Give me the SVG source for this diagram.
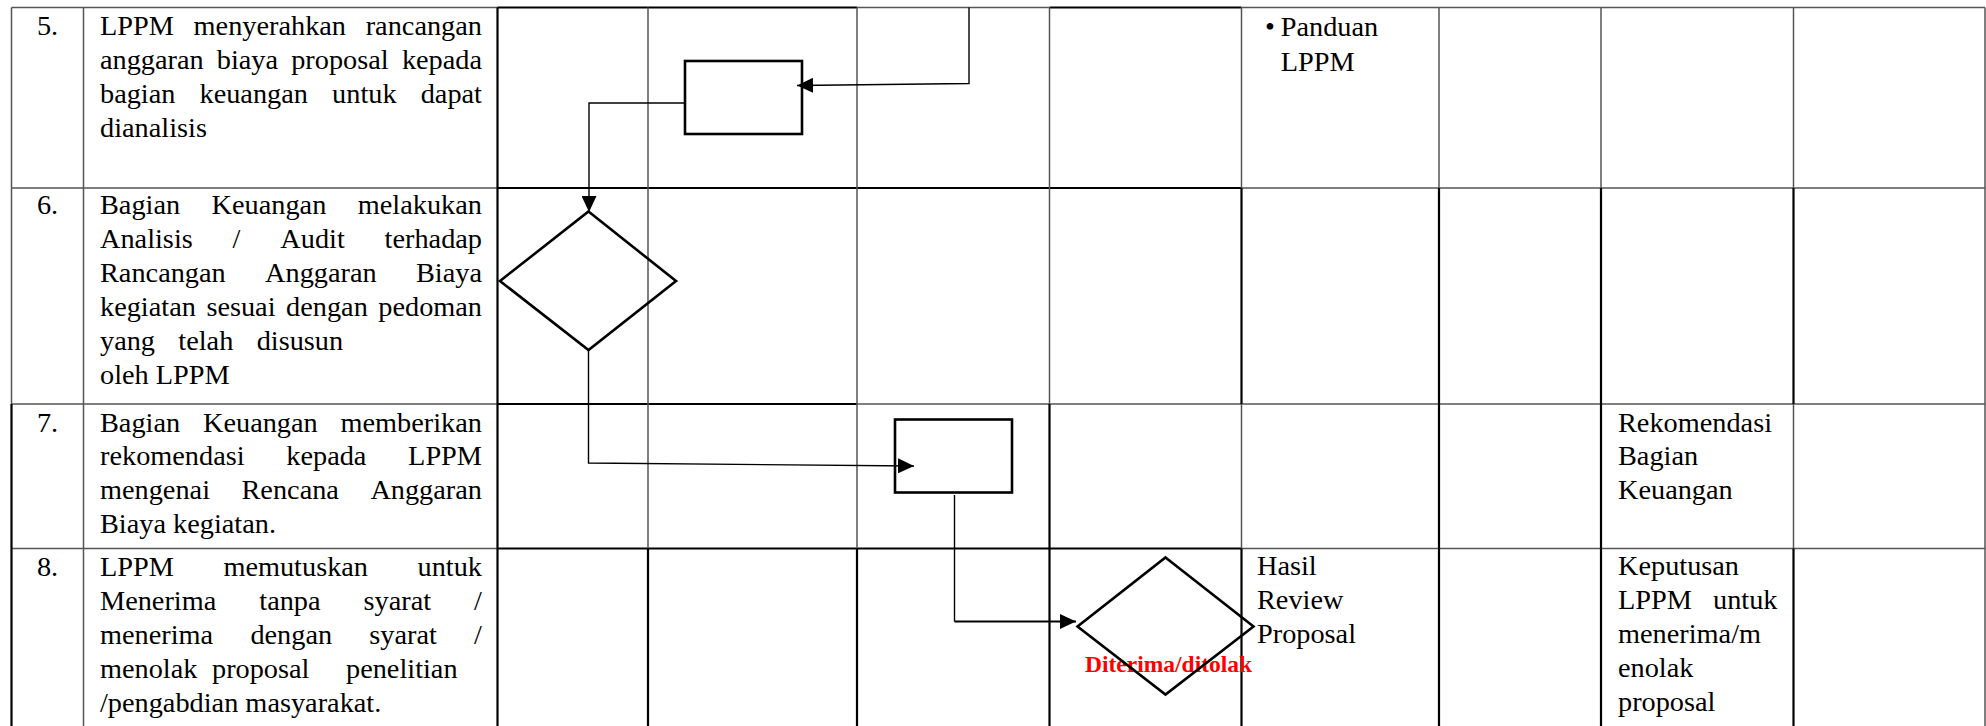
<svg xmlns="http://www.w3.org/2000/svg" width="1986" height="726" viewBox="0 0 1986 726">
<defs>
<style>
.t{font-family:"Liberation Serif","Times New Roman",serif;font-size:28.3px;fill:#000}
.num{text-anchor:middle}
.red{font-family:"Liberation Serif","Times New Roman",serif;font-weight:bold;font-size:23.5px;fill:#ff0000}
.gt{stroke:#555;stroke-width:1.5;fill:none}
.gk{stroke:#000;stroke-width:2.2;fill:none}
.shape{fill:none;stroke:#000;stroke-width:2.6}
.conn{fill:none;stroke:#000;stroke-width:1.4}
</style>
<marker id="arr" markerUnits="userSpaceOnUse" markerWidth="16" markerHeight="15" refX="16" refY="7.5" orient="auto">
<path d="M0,0 L16,7.5 L0,15 Z" fill="#000"/>
</marker>
</defs>
<rect width="1986" height="726" fill="#fff"/>
<g id="grid">
<path class="gt" d="M11.5,7.5H497.5 M857,7.5H1049.5 M1241.5,7.5H1985 M11.5,188H497.5 M1241.5,188H1985 M11.5,404H497.5 M857,404H1985 M11.5,548.5H497.5 M1241.5,548.5H1985"/>
<path class="gk" d="M497.5,7.5H857 M1049.5,7.5H1241.5 M497.5,188H1241.5 M497.5,404H857 M497.5,548.5H1241.5"/>
<path class="gt" d="M11.5,7.5V404 M83.5,7.5V726 M648,7.5V548.5 M857,7.5V548.5 M1049.5,7.5V404 M1241.5,7.5V188 M1241.5,404V548.5 M1439,7.5V188 M1601,7.5V188 M1793.5,7.5V188 M1793.5,404V548.5 M1985,7.5V726"/>
<path class="gk" d="M11.5,404V726 M497.5,7.5V726 M648,548.5V726 M857,548.5V726 M1049.5,404V726 M1241.5,188V404 M1241.5,548.5V726 M1439,188V726 M1601,188V726 M1793.5,188V404 M1793.5,548.5V726"/>
</g>
<g id="row5-text">
<text class="t num" x="47.5" y="35">5.</text>
<text class="t"><tspan x="100" y="35">LPPM</tspan><tspan x="193.6" y="35">menyerahkan</tspan><tspan x="365.7" y="35">rancangan</tspan></text>
<text class="t"><tspan x="100" y="69">anggaran</tspan><tspan x="216.8" y="69">biaya</tspan><tspan x="291.2" y="69">proposal</tspan><tspan x="401.9" y="69">kepada</tspan></text>
<text class="t"><tspan x="100" y="103">bagian</tspan><tspan x="199.5" y="103">keuangan</tspan><tspan x="332.1" y="103">untuk</tspan><tspan x="420.7" y="103">dapat</tspan></text>
<text class="t" x="100" y="137">dianalisis</text>
<text class="t" x="1265" y="36">•</text>
<text class="t" x="1280.7" y="36">Panduan</text>
<text class="t" x="1280.7" y="71">LPPM</text>
</g>
<g id="row6-text">
<text class="t num" x="47.5" y="214">6.</text>
<text class="t"><tspan x="100" y="214">Bagian</tspan><tspan x="211.6" y="214">Keuangan</tspan><tspan x="357.8" y="214">melakukan</tspan></text>
<text class="t"><tspan x="100" y="248">Analisis</tspan><tspan x="232.6" y="248">/</tspan><tspan x="280.3" y="248">Audit</tspan><tspan x="384.6" y="248">terhadap</tspan></text>
<text class="t"><tspan x="100" y="282">Rancangan</tspan><tspan x="265.1" y="282">Anggaran</tspan><tspan x="416" y="282">Biaya</tspan></text>
<text class="t"><tspan x="100" y="316">kegiatan</tspan><tspan x="206.4" y="316">sesuai</tspan><tspan x="286.1" y="316">dengan</tspan><tspan x="378.3" y="316">pedoman</tspan></text>
<text class="t"><tspan x="100" y="350">yang</tspan><tspan x="178.3" y="350">telah</tspan><tspan x="256.7" y="350">disusun</tspan></text>
<text class="t" x="100" y="384">oleh LPPM</text>
</g>
<g id="row7-text">
<text class="t num" x="47.5" y="431.5">7.</text>
<text class="t"><tspan x="100" y="431.5">Bagian</tspan><tspan x="203" y="431.5">Keuangan</tspan><tspan x="340.5" y="431.5">memberikan</tspan></text>
<text class="t"><tspan x="100" y="465.4">rekomendasi</tspan><tspan x="286.3" y="465.4">kepada</tspan><tspan x="408.1" y="465.4">LPPM</tspan></text>
<text class="t"><tspan x="100" y="499.3">mengenai</tspan><tspan x="241.5" y="499.3">Rencana</tspan><tspan x="370.4" y="499.3">Anggaran</tspan></text>
<text class="t" x="100" y="533.2">Biaya kegiatan.</text>
<text class="t" x="1618" y="431.5">Rekomendasi</text>
<text class="t" x="1618" y="465.4">Bagian</text>
<text class="t" x="1618" y="499.3">Keuangan</text>
</g>
<g id="row8-text">
<text class="t num" x="47.5" y="576">8.</text>
<text class="t"><tspan x="100" y="576">LPPM</tspan><tspan x="223.4" y="576">memutuskan</tspan><tspan x="417.5" y="576">untuk</tspan></text>
<text class="t"><tspan x="100" y="610">Menerima</tspan><tspan x="259.3" y="610">tanpa</tspan><tspan x="363.5" y="610">syarat</tspan><tspan x="474.1" y="610">/</tspan></text>
<text class="t"><tspan x="100" y="644">menerima</tspan><tspan x="250.4" y="644">dengan</tspan><tspan x="369.3" y="644">syarat</tspan><tspan x="474.1" y="644">/</tspan></text>
<text class="t"><tspan x="100" y="678">menolak</tspan><tspan x="212" y="678">proposal</tspan><tspan x="346" y="678">penelitian</tspan></text>
<text class="t" x="100" y="712">/pengabdian masyarakat.</text>
<text class="t" x="1257" y="575">Hasil</text>
<text class="t" x="1257" y="609">Review</text>
<text class="t" x="1257" y="643.3">Proposal</text>
<text class="t" x="1618" y="575">Keputusan</text>
<text class="t"><tspan x="1618" y="609">LPPM</tspan><tspan x="1713" y="609">untuk</tspan></text>
<text class="t" x="1618" y="643.3">menerima/m</text>
<text class="t" x="1618" y="676.7">enolak</text>
<text class="t" x="1618" y="710.7">proposal</text>
</g>
<g id="node-rect1">
<rect class="shape" x="685" y="61" width="117" height="73"/>
</g>
<g id="node-diamond1">
<polygon class="shape" points="588.5,211.5 676,281 588.5,350 500,281"/>
</g>
<g id="node-rect2">
<rect class="shape" x="895" y="419.5" width="117" height="73"/>
</g>
<g id="node-diamond2">
<text class="red" x="1085" y="671.7">Diterima/ditolak</text>
<polygon class="shape" points="1165.5,557.5 1253.5,626.5 1165.5,694.5 1077.5,626.5"/>
</g>
<g id="connectors">
<path class="conn" d="M969,7.5 L969,83.5 L797,85.5" marker-end="url(#arr)"/>
<path class="conn" d="M685,103 L589,103 L589,212" marker-end="url(#arr)"/>
<path class="conn" d="M588.5,350 L588.5,463 L914,466" marker-end="url(#arr)"/>
<path class="conn" d="M954.5,495 L954.5,621.5"/>
<path class="conn" style="stroke-width:2" d="M954.5,621.5 L1076,621.5" marker-end="url(#arr)"/>
</g>
</svg>
